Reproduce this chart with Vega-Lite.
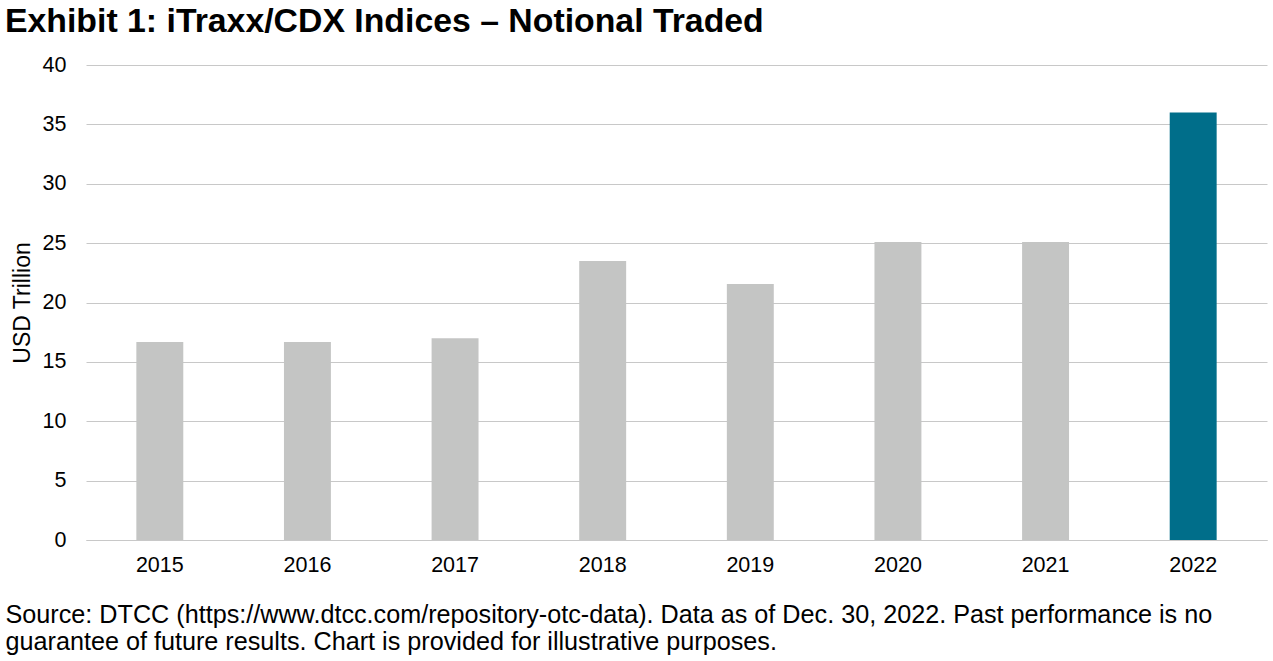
{
  "$schema": "https://vega.github.io/schema/vega-lite/v6.json",
  "width": 1181,
  "height": 475,
  "autosize": {"type": "none"},
  "padding": {"left": 86, "top": 65, "right": 6, "bottom": 121},
  "background": "white",
  "config": {
    "font": "Liberation Sans",
    "view": {"stroke": null}
  },
  "title": {
    "text": "Exhibit 1: iTraxx/CDX Indices – Notional Traded",
    "anchor": "start",
    "frame": "group",
    "fontSize": 33.8,
    "fontWeight": "bold",
    "color": "black",
    "dx": -81,
    "offset": 15
  },
  "data": {
    "values": [
      {"year": "2015", "value": 16.67},
      {"year": "2016", "value": 16.67},
      {"year": "2017", "value": 17.0},
      {"year": "2018", "value": 23.5},
      {"year": "2019", "value": 21.55},
      {"year": "2020", "value": 25.1},
      {"year": "2021", "value": 25.1},
      {"year": "2022", "value": 36.0}
    ]
  },
  "mark": {"type": "bar"},
  "encoding": {
    "x": {
      "field": "year",
      "type": "nominal",
      "sort": null,
      "scale": {"paddingInner": 0.682, "paddingOuter": 0.341},
      "axis": {
        "labelAngle": 0,
        "labelFontSize": 21.5,
        "labelColor": "black",
        "labelPadding": 14,
        "ticks": false,
        "domain": true,
        "domainColor": "#c8c8c8",
        "domainWidth": 1,
        "title": [
          "Source: DTCC (https://www.dtcc.com/repository-otc-data). Data as of Dec. 30, 2022. Past performance is no",
          "guarantee of future results. Chart is provided for illustrative purposes."
        ],
        "titleFontSize": 25.2,
        "titleFontWeight": "normal",
        "titleColor": "black",
        "titleAnchor": "start",
        "titleAlign": "left",
        "titleBaseline": "alphabetic",
        "titleX": -81,
        "titleY": 82,
        "titleLineHeight": 27
      }
    },
    "y": {
      "field": "value",
      "type": "quantitative",
      "scale": {"domain": [0, 40]},
      "axis": {
        "values": [0, 5, 10, 15, 20, 25, 30, 35, 40],
        "labelFontSize": 21.5,
        "labelColor": "black",
        "labelPadding": 20,
        "ticks": false,
        "domain": false,
        "grid": true,
        "gridColor": "#c8c8c8",
        "gridWidth": 1,
        "title": "USD Trillion",
        "titleFontSize": 23,
        "titleFontWeight": "normal",
        "titleColor": "black",
        "titlePadding": 8
      }
    },
    "color": {
      "condition": {"test": "datum.year == '2022'", "value": "#006e8a"},
      "value": "#c4c5c4"
    }
  }
}
